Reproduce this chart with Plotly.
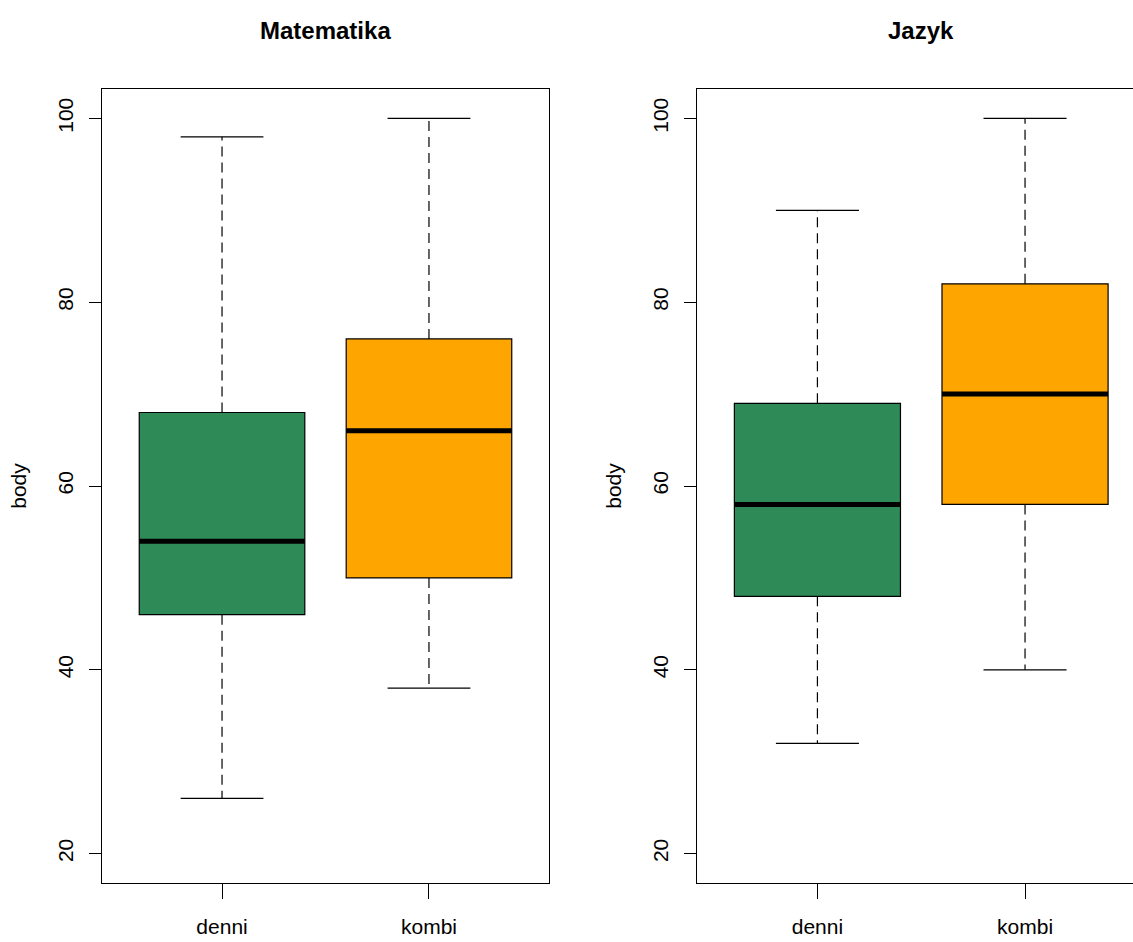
import plotly.graph_objects as go

# ---- data ----
categories = ["denni", "kombi"]
panels = ["Matematika", "Jazyk"]
mat_lower = [26, 38]
mat_q1 = [46, 50]
mat_median = [54, 66]
mat_q3 = [68, 76]
mat_upper = [98, 100]
jaz_lower = [32, 40]
jaz_q1 = [48, 58]
jaz_median = [58, 70]
jaz_q3 = [69, 82]
jaz_upper = [90, 100]
y_ticks = [20, 40, 60, 80, 100]
colors = ["#2E8B57", "#FFA500"]

W, H = 1133, 942
fig = go.Figure()

data = [
    (mat_lower, mat_q1, mat_median, mat_q3, mat_upper),
    (jaz_lower, jaz_q1, jaz_median, jaz_q3, jaz_upper),
]
box_w = 0.8
cap_w = 0.4
pos = [i + 1 for i in range(len(categories))]

for p, (lo, q1, med, q3, up) in enumerate(data):
    xa = "x" if p == 0 else "x2"
    ya = "y" if p == 0 else "y2"
    # whiskers (dashed)
    wx, wy = [], []
    for i, x in enumerate(pos):
        wx += [x, x, None, x, x, None]
        wy += [q3[i], up[i], None, q1[i], lo[i], None]
    fig.add_trace(go.Scatter(x=wx, y=wy, mode="lines", xaxis=xa, yaxis=ya,
                             line=dict(color="black", width=1.2, dash="10px,6px"),
                             hoverinfo="skip", showlegend=False))
    # caps
    cx, cy = [], []
    for i, x in enumerate(pos):
        cx += [x - cap_w / 2, x + cap_w / 2, None, x - cap_w / 2, x + cap_w / 2, None]
        cy += [up[i], up[i], None, lo[i], lo[i], None]
    fig.add_trace(go.Scatter(x=cx, y=cy, mode="lines", xaxis=xa, yaxis=ya,
                             line=dict(color="black", width=1.3),
                             hoverinfo="skip", showlegend=False))
    # boxes
    fig.add_trace(go.Bar(x=pos, y=[q3[i] - q1[i] for i in range(len(pos))], base=q1,
                         width=box_w, xaxis=xa, yaxis=ya,
                         marker=dict(color=colors, line=dict(color="black", width=1.2)),
                         showlegend=False, hoverinfo="skip"))
    # medians
    mx, my = [], []
    for i, x in enumerate(pos):
        mx += [x - box_w / 2, x + box_w / 2, None]
        my += [med[i], med[i], None]
    fig.add_trace(go.Scatter(x=mx, y=my, mode="lines", xaxis=xa, yaxis=ya,
                             line=dict(color="black", width=5),
                             hoverinfo="skip", showlegend=False))

regular = "Liberation Sans, Arial, Helvetica"


def px_x(v):
    return v / W


def px_y(v):
    return (H - v) / H


ybot = px_y(883)
ytop = px_y(89)

xcommon = dict(tickmode="array", tickvals=pos, ticktext=categories,
               ticks="outside", ticklen=15, tickwidth=1.3, tickcolor="black",
               showline=True, linecolor="black", linewidth=1.3,
               showgrid=False, zeroline=False, ticklabelstandoff=10,
               tickfont=dict(family=regular, size=21, color="black"))
ycommon = dict(range=[16.8, 103.2], tickmode="array", tickvals=y_ticks,
               ticks="outside", ticklen=12, tickwidth=1.3, tickcolor="black",
               showline=True, linecolor="black", linewidth=1.3,
               showgrid=False, zeroline=False, tickangle=-90, ticklabelstandoff=7,
               tickfont=dict(family=regular, size=21, color="black"),
               title=dict(text="body", font=dict(family=regular, size=21, color="black"),
                          standoff=22))

fig.update_layout(
    width=W, height=H, margin=dict(l=0, r=0, t=0, b=0),
    paper_bgcolor="white", plot_bgcolor="white",
    xaxis=dict(domain=[px_x(102), px_x(549)], range=[0.42, 2.58], mirror=True, anchor="y", **xcommon),
    yaxis=dict(domain=[ybot, ytop], mirror=True, anchor="x", **ycommon),
    xaxis2=dict(domain=[px_x(697), 1.0], range=[0.42, 2.52], mirror=True, anchor="y2", **xcommon),
    yaxis2=dict(domain=[ybot, ytop], mirror=False, anchor="x2", **ycommon),
    barmode="overlay",
    annotations=[
        dict(text="<b>" + panels[0] + "</b>", x=px_x(325), y=px_y(31), xref="paper", yref="paper",
             showarrow=False, xanchor="center", yanchor="middle",
             font=dict(family=regular, size=24, color="black")),
        dict(text="<b>" + panels[1] + "</b>", x=px_x(921), y=px_y(31), xref="paper", yref="paper",
             showarrow=False, xanchor="center", yanchor="middle",
             font=dict(family=regular, size=24, color="black")),
    ],
)

fig.write_html(
    "out.html",
    config={"displayModeBar": False},
    post_script="document.body.style.margin='0';document.body.style.overflow='hidden';",
)
